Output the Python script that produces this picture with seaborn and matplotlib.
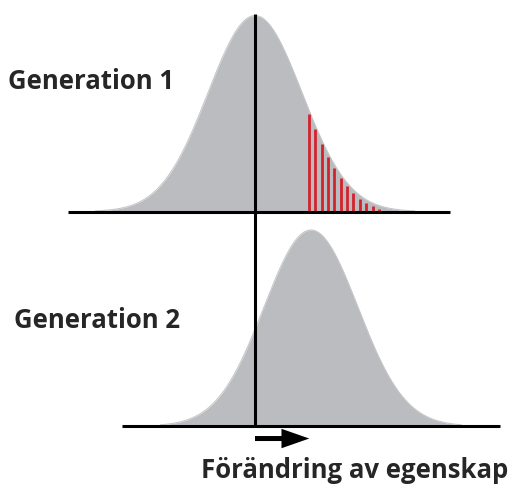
import numpy as np
import matplotlib.pyplot as plt
import seaborn as sns

# Schematic: trait distribution before and after selection (trait in SD units of gen 1)
gen_labels = ["Generation 1", "Generation 2"]
gen_means = [0.0, 1.19]
gen_sd = [1.0, 1.0]
gen_tails = [3.4, 3.2]              # how far each curve is drawn (in SD)
axis_spans = [(-3.98, 4.15), (-2.83, 5.21)]
selection_stripes = [1.15, 1.285, 1.42, 1.555, 1.69, 1.825,
                     1.96, 2.095, 2.23, 2.365, 2.50, 2.635]
shift = gen_means[1] - gen_means[0]
xlabel = "Förändring av egenskap"

# layout (vertical offsets of the two baselines, in curve-height units)
baselines = [1.39, 0.296]
gray = "#bbbcbf"
red = "#d3232b"

sns.set_style("white")
plt.rcParams["font.family"] = ["Open Sans", "DejaVu Sans"]

fig = plt.figure(figsize=(5.16, 4.84), dpi=100)
ax = fig.add_axes([0, 0, 1, 1])


def curve(z, mu, sd):
    return np.exp(-0.5 * ((z - mu) / sd) ** 2)


for mu, sd, tail, base, span in zip(gen_means, gen_sd, gen_tails, baselines, axis_spans):
    z = np.linspace(mu - tail * sd, mu + tail * sd, 500)
    h = curve(z, mu, sd)
    ax.fill_between(z, base, base + h, color=gray, lw=0, zorder=1)
    sns.lineplot(x=z, y=base + h, color="#c6c7ca", lw=0.8, ax=ax, zorder=1.5)
    ax.plot(span, [base, base], color="black", lw=2.2, solid_capstyle="butt", zorder=3)

# selected individuals (red stripes under the right tail of gen 1)
for s in selection_stripes:
    top = baselines[0] + curve(s, gen_means[0], gen_sd[0]) - 0.018
    if top > baselines[0]:
        ax.vlines(s, baselines[0], top, color=red, lw=2.0, zorder=2)

# reference line at the gen 1 mean
ax.vlines(gen_means[0], baselines[1], baselines[0] + 1.008, color="black", lw=2.2, zorder=3)

# arrow showing the shift in mean
ax.annotate("", xy=(gen_means[0] + shift * 0.97, 0.232), xytext=(gen_means[0], 0.232),
            arrowprops=dict(arrowstyle="simple,head_length=1.0,head_width=0.7,tail_width=0.18",
                            mutation_scale=20, fc="black", ec="none",
                            shrinkA=0, shrinkB=0))

ax.set_xlim(-255 / 47, 261 / 47)
ax.set_ylim(0, 484 / 196)
ax.axis("off")

fig.text(8 / 516, 1 - 89 / 484, gen_labels[0], fontsize=18.5, fontweight="bold",
         ha="left", va="baseline")
fig.text(14 / 516, 1 - 328 / 484, gen_labels[1], fontsize=18.5, fontweight="bold",
         ha="left", va="baseline")
fig.text(355 / 516, 1 - 478 / 484, xlabel, fontsize=18.5, fontweight="bold",
         ha="center", va="baseline")

plt.savefig("out.png", dpi=100)
plt.close()
